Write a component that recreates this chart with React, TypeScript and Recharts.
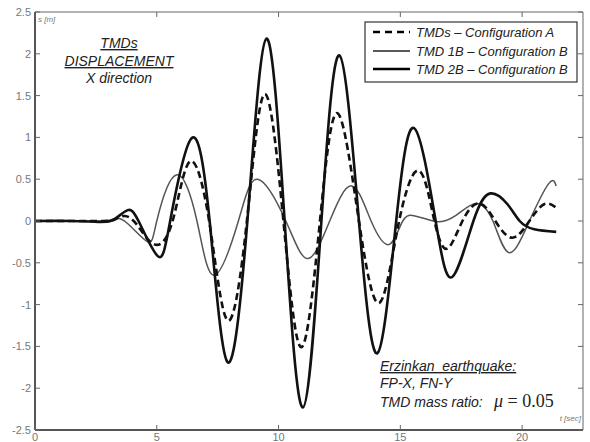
import React from 'react';
import { LineChart, Line, XAxis, YAxis, ReferenceLine } from 'recharts';

// time axis ticks [sec] and displacement ticks [m]
const xTicks = [0, 5, 10, 15, 20];
const yTicks = [-2.5, -2, -1.5, -1, -0.5, 0, 0.5, 1, 1.5, 2, 2.5];

// TMDs - Configuration A (dashed)
const tA = [0, 1.5, 2.8, 3.3, 3.69, 4.2, 4.9, 5.65, 6.35, 7.15, 7.91, 8.7, 9.43, 10.2, 10.94, 11.7, 12.42, 13.3, 14.14, 14.95, 15.78, 16.4, 16.93, 17.55, 18.24, 18.9, 19.6, 20.3, 20.9, 21.4];
const sA = [0, 0, 0, 0.02, 0.06, -0.05, -0.28, 0, 0.71, 0, -1.19, 0, 1.52, 0, -1.51, 0, 1.29, 0, -0.98, 0, 0.6, 0, -0.33, 0, 0.21, 0, -0.2, 0, 0.2, 0.16];

// TMD 1B - Configuration B (thin grey)
const t1B = [0, 1.5, 2.8, 3.3, 3.8, 4.63, 5.0, 5.8, 6.65, 7.35, 8.35, 9.14, 10.3, 11.2, 12.1, 13.0, 13.8, 14.55, 15.1, 15.6, 16.1, 16.6, 17.3, 18.1, 18.8, 19.47, 20.3, 21.1, 21.4];
const s1B = [0, 0, 0, 0.03, -0.03, -0.25, 0, 0.55, 0, -0.65, 0, 0.5, 0, -0.45, 0, 0.42, 0, -0.28, 0, 0.06, 0.02, -0.01, 0.07, 0.21, 0, -0.38, 0, 0.45, 0.42];

// TMD 2B - Configuration B (thick)
const t2B = [0, 1.5, 2.6, 3.1, 3.4, 3.81, 4.25, 5.04, 5.55, 6.43, 7.17, 7.91, 8.72, 9.5, 10.25, 11.0, 11.76, 12.5, 13.3, 14.06, 14.83, 15.57, 16.45, 17.13, 18.0, 18.7, 19.4, 19.9, 20.5, 21.4];
const s2B = [0, 0, -0.01, 0, 0.05, 0.13, 0, -0.42, 0, 0.99, 0, -1.69, 0, 2.18, 0, -2.23, 0, 1.98, 0, -1.58, 0, 1.11, 0, -0.67, 0, 0.33, 0.2, 0, -0.1, -0.13];

const zip = (ts: number[], vs: number[]) => ts.map((t, i) => ({ t, s: vs[i] }));
const dataA = zip(tA, sA);
const data1B = zip(t1B, s1B);
const data2B = zip(t2B, s2B);

const W = 590;
const H = 442;
const TOP = 12;
const RIGHT = 7;
const LEFT = 35;
const BOTTOM = 12;
const font = '"Liberation Sans", Arial, sans-serif';

const BottomTick = (props: any) => {
  const { x, y, payload } = props;
  return (
    <g>
      <line x1={x} x2={x} y1={y} y2={y - 5} stroke="#666" />
      <line x1={x} x2={x} y1={TOP} y2={TOP + 5} stroke="#666" />
      <text x={x} y={y + 11} textAnchor="middle" fontSize={11} fill="#777" fontFamily={font}>{payload.value}</text>
    </g>
  );
};

const LeftTick = (props: any) => {
  const { x, y, payload } = props;
  return (
    <g>
      <line x1={x} x2={x + 5} y1={y} y2={y} stroke="#666" />
      <line x1={W - RIGHT} x2={W - RIGHT - 5} y1={y} y2={y} stroke="#666" />
      <text x={x - 4} y={y + 4} textAnchor="end" fontSize={11} fill="#777" fontFamily={font}>{payload.value}</text>
    </g>
  );
};

const Overlay = () => (
  <svg width={W} height={H} style={{ position: 'absolute', left: 0, top: 0, pointerEvents: 'none' }}>
    <g fontFamily={font} fontStyle="italic" fill="#222">
      <text x={38} y={22} fontSize={8} fill="#777">s [m]</text>
      <text x={581} y={421} fontSize={8} fill="#777" textAnchor="end">t [sec]</text>

      <text x={119} y={48} fontSize={14} textAnchor="middle" textDecoration="underline">TMDs</text>
      <text x={119} y={66} fontSize={14} textAnchor="middle" textDecoration="underline">DISPLACEMENT</text>
      <text x={119} y={83} fontSize={14} textAnchor="middle">X direction</text>

      <rect x={365} y={22} width={212} height={60} fill="#fff" stroke="#333" strokeWidth={1.2} />
      <line x1={373} x2={410} y1={32} y2={32} stroke="#000" strokeWidth={2.5} strokeDasharray="7 5" />
      <line x1={373} x2={410} y1={51} y2={51} stroke="#222" strokeWidth={1.5} />
      <line x1={373} x2={410} y1={69} y2={69} stroke="#000" strokeWidth={2.5} />
      <text x={416} y={37} fontSize={13}>TMDs  – Configuration A</text>
      <text x={416} y={56} fontSize={13}>TMD 1B – Configuration B</text>
      <text x={416} y={74} fontSize={13}>TMD 2B – Configuration B</text>

      <text x={380} y={371} fontSize={14} textDecoration="underline" style={{ whiteSpace: 'pre' }}>Erzinkan  earthquake:</text>
      <text x={380} y={388} fontSize={14}>FP-X, FN-Y</text>
      <text x={380} y={407} fontSize={14}>TMD mass ratio:</text>
      <text x={494} y={407} fontSize={18} fontFamily='"Liberation Serif", "Times New Roman", serif'>μ<tspan fontStyle="normal"> = 0.05</tspan></text>
    </g>
  </svg>
);

export default function App() {
  return (
    <div style={{ position: 'absolute', left: 0, top: 0, width: W, height: H, background: '#fff' }}>
      <LineChart width={W} height={H} margin={{ top: TOP, right: RIGHT, bottom: 0, left: 0 }}>
        <XAxis
          dataKey="t"
          type="number"
          domain={[0, 22.5]}
          ticks={xTicks}
          interval={0}
          height={BOTTOM}
          tickSize={0}
          tickMargin={0}
          tick={<BottomTick />}
          axisLine={{ stroke: '#555', strokeWidth: 2 }}
          allowDataOverflow
        />
        <YAxis
          type="number"
          domain={[-2.5, 2.5]}
          ticks={yTicks}
          interval={0}
          width={LEFT}
          tickSize={0}
          tickMargin={0}
          tick={<LeftTick />}
          axisLine={{ stroke: '#555', strokeWidth: 2 }}
          allowDataOverflow
        />
        <ReferenceLine y={2.5} stroke="#999" strokeWidth={1.5} />
        <ReferenceLine x={22.5} stroke="#999" strokeWidth={1.5} />
        <Line data={data1B} dataKey="s" type="natural" stroke="#555" strokeWidth={1.5} dot={false} isAnimationActive={false} />
        <Line data={dataA} dataKey="s" type="natural" stroke="#111" strokeWidth={2.6} strokeDasharray="7 4" dot={false} isAnimationActive={false} />
        <Line data={data2B} dataKey="s" type="natural" stroke="#111" strokeWidth={2.6} dot={false} isAnimationActive={false} />
      </LineChart>
      <Overlay />
    </div>
  );
}
